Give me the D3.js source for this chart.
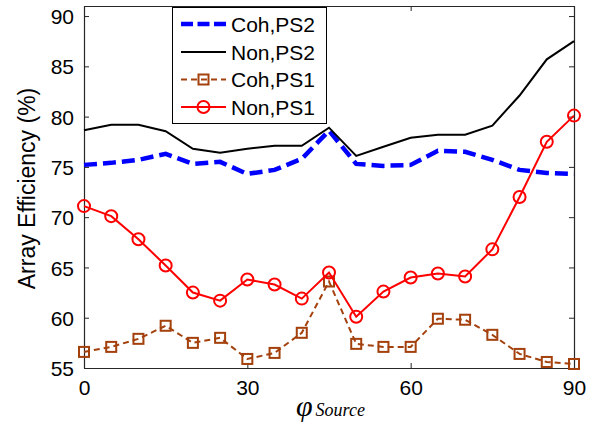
<!DOCTYPE html>
<html>
<head>
<meta charset="utf-8">
<script src="https://cdn.jsdelivr.net/npm/d3@7"></script>
<style>
  html, body { margin: 0; padding: 0; background: #fff; }
  svg { display: block; }
</style>
</head>
<body>
<svg id="chart" width="613" height="425"></svg>
<script>
// Source angle (degrees)
const angles = [0, 5, 10, 15, 20, 25, 30, 35, 40, 45, 50, 55, 60, 65, 70, 75, 80, 85, 90];

// Array efficiency (%) for each configuration
const cohPS2 = [75.2, 75.4, 75.7, 76.3, 75.3, 75.5, 74.3, 74.7, 75.8, 78.6, 75.3, 75.1, 75.2, 76.6, 76.5, 75.7, 74.7, 74.4, 74.3];
const nonPS2 = [78.65, 79.2, 79.2, 78.55, 76.8, 76.4, 76.8, 77.1, 77.1, 78.9, 76.1, 77.0, 77.9, 78.2, 78.2, 79.1, 82.1, 85.7, 87.5];
const cohPS1 = [56.6, 57.1, 57.9, 59.2, 57.5, 58.0, 55.9, 56.5, 58.5, 63.6, 57.4, 57.1, 57.1, 59.9, 59.8, 58.3, 56.4, 55.6, 55.4];
const nonPS1 = [71.1, 70.1, 67.8, 65.2, 62.5, 61.7, 63.8, 63.3, 61.9, 64.5, 60.1, 62.6, 64.0, 64.4, 64.1, 66.8, 72.0, 77.5, 80.1];

const seriesNames = ["Coh,PS2", "Non,PS2", "Coh,PS1", "Non,PS1"];
const xTicks = [0, 30, 60, 90];
const yTicks = [55, 60, 65, 70, 75, 80, 85, 90];

const svg = d3.select("#chart");
const plotLeft = 84, plotRight = 574, plotTop = 6, plotBottom = 368;
const x = d3.scaleLinear().domain([0, 90]).range([plotLeft, plotRight]);
const y = d3.scaleLinear().domain([55, 91]).range([plotBottom, plotTop]);

const sansFont = "'Liberation Sans', Arial, Helvetica, sans-serif";
const serifFont = "'Liberation Serif', 'Times New Roman', serif";
const axisColor = "#262626";

// Axes with inward ticks, mirrored on top and right
const tickLen = 5;
const gx = svg.append("g").attr("transform", `translate(0,${plotBottom})`)
  .call(d3.axisBottom(x).tickValues(xTicks).tickSizeInner(-tickLen).tickSizeOuter(0).tickPadding(12));
const gxTop = svg.append("g").attr("transform", `translate(0,${plotTop})`)
  .call(d3.axisTop(x).tickValues(xTicks).tickSizeInner(-tickLen).tickSizeOuter(0).tickFormat(""));
const gy = svg.append("g").attr("transform", `translate(${plotLeft},0)`)
  .call(d3.axisLeft(y).tickValues(yTicks).tickSizeInner(-tickLen).tickSizeOuter(0).tickPadding(10));
const gyRight = svg.append("g").attr("transform", `translate(${plotRight},0)`)
  .call(d3.axisRight(y).tickValues(yTicks).tickSizeInner(-tickLen).tickSizeOuter(0).tickFormat(""));

[gx, gxTop, gy, gyRight].forEach(g => {
  g.select(".domain").attr("stroke", axisColor).attr("stroke-width", 1.2);
  g.selectAll(".tick line").attr("stroke", axisColor).attr("stroke-width", 1);
  g.selectAll(".tick text").attr("fill", "#000").style("font-family", sansFont).style("font-size", "21px");
});
gy.selectAll(".tick text").attr("dy", "0.36em");
gx.selectAll(".tick text").attr("dy", "0.71em");

// Series
const line = d3.line().x((d, i) => x(angles[i])).y(d => y(d));
const plot = svg.append("g");

const colBlue = "#0000ff", colBlack = "#000000", colBrown = "#a3400c", colRed = "#ff0000";

plot.append("path").datum(cohPS2).attr("d", line)
  .attr("fill", "none").attr("stroke", colBlue).attr("stroke-width", 4.5)
  .attr("stroke-dasharray", "13,6");

plot.append("path").datum(nonPS2).attr("d", line)
  .attr("fill", "none").attr("stroke", colBlack).attr("stroke-width", 2);

plot.append("path").datum(cohPS1).attr("d", line)
  .attr("fill", "none").attr("stroke", colBrown).attr("stroke-width", 2)
  .attr("stroke-dasharray", "6,4");
const sq = 10;
plot.selectAll(".sq").data(cohPS1).enter().append("rect")
  .attr("x", (d, i) => x(angles[i]) - sq / 2)
  .attr("y", d => y(d) - sq / 2)
  .attr("width", sq).attr("height", sq)
  .attr("fill", "none").attr("stroke", colBrown).attr("stroke-width", 2);

plot.append("path").datum(nonPS1).attr("d", line)
  .attr("fill", "none").attr("stroke", colRed).attr("stroke-width", 2);
plot.selectAll(".ci").data(nonPS1).enter().append("circle")
  .attr("cx", (d, i) => x(angles[i]))
  .attr("cy", d => y(d))
  .attr("r", 6)
  .attr("fill", "none").attr("stroke", colRed).attr("stroke-width", 2);

// Legend
const lg = svg.append("g");
lg.append("rect").attr("x", 172.5).attr("y", 7.5).attr("width", 154).attr("height", 116)
  .attr("fill", "#fff").attr("stroke", "#000").attr("stroke-width", 1);
const rowsY = [24, 52, 79.5, 107];
const lx0 = 181, lx1 = 226, tx = 231;
const styles = [
  { color: colBlue, w: 4.5, dash: "12,4.5", marker: null },
  { color: colBlack, w: 2, dash: null, marker: null },
  { color: colBrown, w: 2, dash: "6,4", marker: "square" },
  { color: colRed, w: 2, dash: null, marker: "circle" }
];
seriesNames.forEach((name, k) => {
  const s = styles[k], yy = rowsY[k];
  lg.append("line").attr("x1", lx0).attr("x2", lx1).attr("y1", yy).attr("y2", yy)
    .attr("stroke", s.color).attr("stroke-width", s.w)
    .attr("stroke-dasharray", s.dash);
  const mx = (lx0 + lx1) / 2;
  if (s.marker === "square") {
    lg.append("rect").attr("x", mx - sq / 2).attr("y", yy - sq / 2).attr("width", sq).attr("height", sq)
      .attr("fill", "none").attr("stroke", s.color).attr("stroke-width", 2);
  } else if (s.marker === "circle") {
    lg.append("circle").attr("cx", mx).attr("cy", yy).attr("r", 6)
      .attr("fill", "none").attr("stroke", s.color).attr("stroke-width", 2);
  }
  lg.append("text").attr("x", tx).attr("y", yy).attr("dy", "0.36em")
    .style("font-family", sansFont).style("font-size", "21px").text(name);
});

// Axis titles
svg.append("text")
  .attr("transform", `translate(35,${(84 + 293) / 2}) rotate(-90)`)
  .attr("text-anchor", "middle")
  .style("font-family", sansFont).style("font-size", "23px")
  .text("Array Efficiency (%)");

const xl = svg.append("text").attr("x", 296).attr("y", 416)
  .style("font-family", serifFont).style("font-style", "italic");
xl.append("tspan").style("font-size", "30px").text("φ");
xl.append("tspan").attr("dx", 3).style("font-size", "18px").text("Source");
</script>
</body>
</html>
